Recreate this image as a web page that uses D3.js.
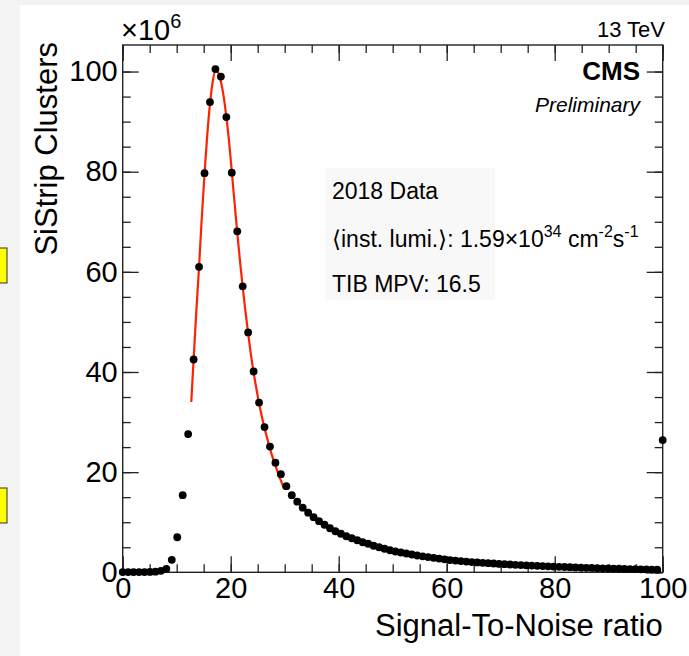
<!DOCTYPE html>
<html>
<head>
<meta charset="utf-8">
<script src="https://cdn.jsdelivr.net/npm/d3@7"></script>
<style>
  html, body { margin: 0; padding: 0; background: #f3f3f3; }
  svg { display: block; }
  text { font-family: "Liberation Sans", Arial, Helvetica, sans-serif; }
</style>
</head>
<body>
<svg id="chart" width="689" height="656"></svg>
<script>
// ---- data ----
// bin centres run from 0 to 100 in 100 bins (spacing 100/99)
const binCount = 100;
const binMax = 100;
const clusterCounts = [ // SiStrip clusters, units of 10^6
  0.05, 0.05, 0.05, 0.05, 0.05, 0.08, 0.12, 0.3, 0.7, 2.5,
  7.0, 15.4, 27.6, 42.5, 61.0, 79.7, 93.9, 100.5, 99.0, 90.9,
  79.8, 68.1, 57.1, 47.9, 40.1, 33.9, 29.0, 25.1, 21.9, 19.6,
  17.2, 15.4, 14.1, 12.9, 11.9, 11.0, 10.2, 9.5, 8.8, 8.2,
  7.7, 7.2, 6.8, 6.4, 6.0, 5.7, 5.3, 5.0, 4.7, 4.4,
  4.15, 3.95, 3.75, 3.55, 3.35, 3.2, 3.05, 2.9, 2.75, 2.6,
  2.45, 2.35, 2.25, 2.15, 2.05, 1.97, 1.9, 1.83, 1.76, 1.68,
  1.62, 1.56, 1.5, 1.45, 1.4, 1.35, 1.3, 1.25, 1.2, 1.15,
  1.1, 1.06, 1.02, 0.98, 0.94, 0.9, 0.87, 0.83, 0.8, 0.77,
  0.74, 0.71, 0.68, 0.65, 0.62, 0.6, 0.57, 0.55, 0.52, 26.4
];
// Landau-Gauss fit curve
const fitX = [12.7, 13.13, 13.6, 14.14, 14.6, 15.15, 15.6, 16.16, 16.6, 17.2, 17.7, 18.18, 18.7, 19.19, 19.7, 20.2, 20.7, 21.2, 21.7, 22.2, 22.7, 23.2, 23.7, 24.2, 24.7, 25.25, 25.75, 26.26, 26.8, 27.27, 28.28, 29.3, 29.9];
const fitY = [34.0, 42.5, 51.5, 61.0, 70.0, 79.5, 86.5, 93.5, 97.5, 100.2, 99.8, 98.0, 95.0, 91.0, 86.0, 80.0, 74.0, 68.0, 62.4, 57.2, 52.4, 48.0, 43.8, 40.2, 37.0, 33.8, 31.2, 28.8, 26.6, 24.7, 21.3, 18.3, 16.6];
const xMajorTicks = [0, 20, 40, 60, 80, 100];
const yMajorTicks = [0, 20, 40, 60, 80, 100];
const xTitle = "Signal-To-Noise ratio";
const yTitle = "SiStrip Clusters";
const infoLines = ["2018 Data", "TIB MPV: 16.5"];

// ---- layout ----
const svg = d3.select("#chart");
const L = 122.7, R = 662.7, B = 572.3, T = 45;
const x = d3.scaleLinear().domain([0, 100]).range([L, R]);
const y = d3.scaleLinear().domain([0, 105.3]).range([B, T]);

// white canvas area
svg.append("rect").attr("x", 20).attr("y", 5).attr("width", 669).attr("height", 651).attr("fill", "#ffffff");
// yellow side boxes (partly visible at left edge)
svg.append("rect").attr("x", -20).attr("y", 248).attr("width", 27).attr("height", 35).attr("fill", "#ffff00").attr("stroke", "#333").attr("stroke-width", 1);
svg.append("rect").attr("x", -20).attr("y", 488).attr("width", 27).attr("height", 35).attr("fill", "#ffff00").attr("stroke", "#333").attr("stroke-width", 1);

const axisColor = "#222";
function styleAxis(g) {
  g.select(".domain").remove();
  g.selectAll(".tick line").attr("stroke", axisColor).attr("stroke-width", 1.3);
  g.selectAll(".tick text").attr("fill", "#000").style("font-size", "29px");
}
const minorX = d3.range(0, 101, 5);
const minorY = d3.range(0, 105, 5);

// bottom axis
svg.append("g").attr("transform", `translate(0,${B})`)
  .call(d3.axisBottom(x).tickValues(minorX).tickSize(-8).tickFormat(""))
  .call(styleAxis);
svg.append("g").attr("transform", `translate(0,${B})`)
  .call(d3.axisBottom(x).tickValues(xMajorTicks).tickSize(-16).tickPadding(5).tickFormat(d3.format("d")))
  .call(styleAxis);
// top axis (mirrored ticks)
svg.append("g").attr("transform", `translate(0,${T})`)
  .call(d3.axisTop(x).tickValues(minorX).tickSize(-8).tickFormat(""))
  .call(styleAxis);
svg.append("g").attr("transform", `translate(0,${T})`)
  .call(d3.axisTop(x).tickValues(xMajorTicks).tickSize(-16).tickFormat(""))
  .call(styleAxis);
// left axis
svg.append("g").attr("transform", `translate(${L},0)`)
  .call(d3.axisLeft(y).tickValues(minorY).tickSize(-8).tickFormat(""))
  .call(styleAxis);
svg.append("g").attr("transform", `translate(${L},0)`)
  .call(d3.axisLeft(y).tickValues(yMajorTicks).tickSize(-16).tickPadding(5).tickFormat(d3.format("d")))
  .call(styleAxis);
// right axis
svg.append("g").attr("transform", `translate(${R},0)`)
  .call(d3.axisRight(y).tickValues(minorY).tickSize(-8).tickFormat(""))
  .call(styleAxis);
svg.append("g").attr("transform", `translate(${R},0)`)
  .call(d3.axisRight(y).tickValues(yMajorTicks).tickSize(-16).tickFormat(""))
  .call(styleAxis);

// frame
svg.append("rect").attr("x", L).attr("y", T).attr("width", R - L).attr("height", B - T)
  .attr("fill", "none").attr("stroke", axisColor).attr("stroke-width", 1.4);

// fit curve
const line = d3.line().x(d => x(d[0])).y(d => y(d[1])).curve(d3.curveMonotoneX);
svg.append("path").datum(fitX.map((v, i) => [v, fitY[i]]))
  .attr("d", line).attr("fill", "none").attr("stroke", "#ff2200").attr("stroke-width", 2.2);

// data points
const binStep = binMax / (binCount - 1);
svg.append("g").selectAll("circle").data(clusterCounts).join("circle")
  .attr("cx", (d, i) => x(i * binStep)).attr("cy", d => y(d)).attr("r", 3.9).attr("fill", "#000");

// axis titles
svg.append("text").attr("x", R).attr("y", 636).attr("text-anchor", "end")
  .style("font-size", "31px").text(xTitle);
svg.append("text").attr("transform", "translate(57,42) rotate(-90)").attr("text-anchor", "end")
  .style("font-size", "31px").text(yTitle);

// exponent label
const ex = svg.append("text").attr("x", 121).attr("y", 40).style("font-size", "29px");
ex.append("tspan").text("\u00d710");
ex.append("tspan").attr("dy", -12).style("font-size", "20px").text("6");

// top-right labels
svg.append("text").attr("x", 665).attr("y", 37).attr("text-anchor", "end").style("font-size", "22px").text("13 TeV");
svg.append("text").attr("x", 640).attr("y", 80).attr("text-anchor", "end").style("font-size", "26px").style("font-weight", "bold").text("CMS");
svg.append("text").attr("x", 640).attr("y", 112).attr("text-anchor", "end").style("font-size", "21px").style("font-style", "italic").text("Preliminary");

// info box
svg.append("rect").attr("x", 325).attr("y", 168).attr("width", 170).attr("height", 132).attr("fill", "#f8f8f8");
svg.append("text").attr("x", 332).attr("y", 199).style("font-size", "23px").text(infoLines[0]);
const lumi = svg.append("text").attr("x", 332).attr("y", 247).style("font-size", "23px");
lumi.append("tspan").text("\u27e8inst. lumi.\u27e9: 1.59\u00d710");
lumi.append("tspan").attr("dy", -10).style("font-size", "16px").text("34");
lumi.append("tspan").attr("dy", 10).text(" cm");
lumi.append("tspan").attr("dy", -10).style("font-size", "16px").text("-2");
lumi.append("tspan").attr("dy", 10).text("s");
lumi.append("tspan").attr("dy", -10).style("font-size", "16px").text("-1");
svg.append("text").attr("x", 332).attr("y", 292).style("font-size", "23px").text(infoLines[1]);
</script>
</body>
</html>
